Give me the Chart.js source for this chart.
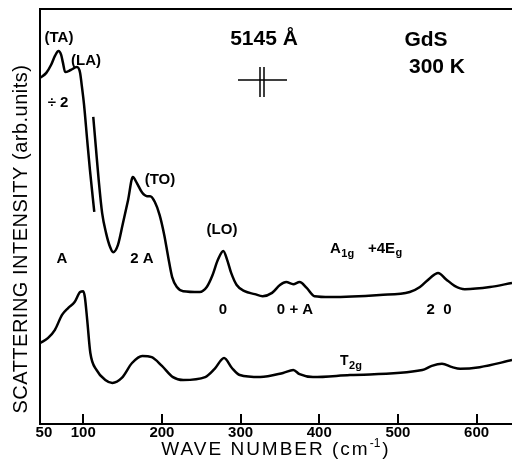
<!DOCTYPE html>
<html>
<head>
<meta charset="utf-8">
<script src="https://cdn.jsdelivr.net/npm/chart.js@4"></script>
<style>
  body { margin: 0; background: #fff; }
  #wrap { width: 512px; height: 472px; }
</style>
</head>
<body>
<div id="wrap"><canvas id="raman" width="512" height="472"></canvas></div>
<script>
// wave number (cm-1) and intensity (arb. units)
// A1g + 4Eg, low-frequency part plotted divided by 2
const halfX = [45, 53, 59, 64, 68.5, 72, 74, 77, 84, 92, 96, 98, 101, 105, 108.5, 114];
const halfY = [83.4, 84.6, 86.5, 88.7, 89.9, 88.9, 87.2, 84.8, 85.3, 86.0, 84.6, 81.7, 76.9, 68.4, 61.2, 51.1];

// A1g + 4Eg, rest of the spectrum at full scale
const upperX = [112.7, 116, 119.6, 124, 129, 134, 138, 144, 150, 157, 163, 168, 175, 181, 185, 191, 197,
  203, 208, 213, 219, 227, 248, 257, 264, 271, 278, 283, 288, 295, 305, 318, 328, 340, 350, 358, 367,
  375, 384, 394, 414, 477, 515, 528, 541, 551, 561, 572, 585, 617, 645];
const upperY = [74.0, 66.7, 58.8, 50.8, 46.0, 42.7, 41.4, 43.1, 48.0, 54.0, 59.5, 58.1, 55.7, 54.9, 54.9, 53.5, 50.4,
  45.5, 40.2, 35.4, 33.0, 32.0, 31.8, 33.0, 35.7, 39.5, 41.7, 39.5, 36.4, 33.5, 32.0, 31.3, 30.8, 31.6, 33.5, 34.2, 33.7,
  34.2, 32.8, 30.8, 30.6, 31.1, 31.8, 33.0, 35.2, 36.4, 34.9, 33.3, 32.5, 33.0, 34.0];

// T2g
const lowerX = [45, 55, 64, 73, 81, 89, 96, 100, 102, 105, 109, 117, 128, 137, 149, 162, 175, 187, 200, 214,
  227, 255, 267, 279, 289, 299, 325, 354, 367, 375, 392, 439, 531, 543, 556, 569, 579, 604, 645];
const lowerY = [19.5, 20.7, 22.7, 26.3, 28.0, 29.4, 31.8, 32.0, 30.6, 25.1, 17.1, 13.0, 10.6, 9.9, 11.1, 14.7, 16.4, 16.1, 14.0, 11.3,
  10.6, 11.3, 13.3, 15.9, 13.5, 11.8, 11.3, 12.3, 13.0, 12.0, 11.3, 11.8, 13.0, 14.0, 14.5, 13.7, 13.3, 13.7, 15.4];

const xTicks = [50, 100, 200, 300, 400, 500, 600];

const FONT = "'Liberation Sans', Arial, sans-serif";

function pts(xs, ys) {
  return xs.map(function (x, i) { return { x: x, y: ys[i] }; });
}

function subText(ctx, x, y, main, sub, size, subSize, drop) {
  ctx.font = 'bold ' + size + 'px ' + FONT;
  ctx.textAlign = 'left';
  ctx.textBaseline = 'alphabetic';
  ctx.fillText(main, x, y);
  let w = ctx.measureText(main).width;
  ctx.font = 'bold ' + subSize + 'px ' + FONT;
  ctx.fillText(sub, x + w + 0.5, y + drop);
}

// text labels, the slit sign, the frame top and the inward tick marks
const decor = {
  id: 'decor',
  afterDraw(chart) {
    const ctx = chart.ctx;
    const a = chart.chartArea;
    const xs = chart.scales.x;
    ctx.save();
    ctx.fillStyle = '#000';
    ctx.strokeStyle = '#000';
    ctx.lineWidth = 2;

    ctx.beginPath();
    ctx.moveTo(a.left - 1, a.top);
    ctx.lineTo(a.right, a.top);
    ctx.stroke();

    xTicks.forEach(function (v) {
      if (v === 50) return;
      const p = Math.round(xs.getPixelForValue(v));
      ctx.beginPath();
      ctx.moveTo(p, a.bottom);
      ctx.lineTo(p, a.bottom - 10);
      ctx.stroke();
    });

    // slit symbol
    ctx.lineWidth = 1.5;
    ctx.beginPath();
    ctx.moveTo(238, 80); ctx.lineTo(287, 80);
    ctx.moveTo(260, 67); ctx.lineTo(260, 97);
    ctx.moveTo(264, 67); ctx.lineTo(264, 97);
    ctx.stroke();

    const notes = [
      ['(TA)', 59, 38, 15], ['(LA)', 86, 61, 15], ['\u00f7 2', 58, 103, 15],
      ['(TO)', 160, 180, 15], ['(LO)', 222, 230, 15],
      ['A', 62, 259, 15], ['2 A', 142, 259, 15],
      ['0', 223, 310, 15], ['0 + A', 295, 310, 15], ['2  0', 439, 310, 15],
      ['5145 \u00c5', 264, 39, 21], ['GdS', 426, 40, 21], ['300 K', 437, 67, 21]
    ];
    ctx.textAlign = 'center';
    ctx.textBaseline = 'middle';
    notes.forEach(function (n) {
      ctx.font = 'bold ' + n[3] + 'px ' + FONT;
      ctx.fillText(n[0], n[1], n[2]);
    });

    // A1g + 4Eg  and  T2g
    subText(ctx, 330, 253, 'A', '1g', 15, 11, 4);
    subText(ctx, 368, 253, '+4E', 'g', 15, 11, 3);
    subText(ctx, 340, 365, 'T', '2g', 14, 11, 4);

    // axis titles
    ctx.font = '19px ' + FONT;
    ctx.letterSpacing = '2px';
    ctx.textAlign = 'left';
    ctx.textBaseline = 'alphabetic';
    const t1 = 'WAVE NUMBER (cm';
    const w1 = ctx.measureText(t1).width;
    ctx.font = '12px ' + FONT;
    ctx.letterSpacing = '0px';
    const w2 = ctx.measureText('-1').width;
    ctx.font = '19px ' + FONT;
    ctx.letterSpacing = '2px';
    const w3 = ctx.measureText(')').width;
    let sx = 276 - (w1 + w2 + 2 + w3) / 2;
    ctx.fillText(t1, sx, 455);
    ctx.font = '12px ' + FONT;
    ctx.letterSpacing = '0px';
    ctx.fillText('-1', sx + w1, 447);
    ctx.font = '19px ' + FONT;
    ctx.letterSpacing = '2px';
    ctx.fillText(')', sx + w1 + w2 + 2, 455);

    ctx.translate(27, 239);
    ctx.rotate(-Math.PI / 2);
    ctx.font = '20px ' + FONT;
    ctx.letterSpacing = '0.5px';
    ctx.textAlign = 'center';
    ctx.fillText('SCATTERING INTENSITY (arb.units)', 0, 0);
    ctx.restore();
  }
};

const lineStyle = {
  borderColor: '#000',
  borderWidth: 2.5,
  pointRadius: 0,
  fill: false,
  cubicInterpolationMode: 'monotone'
};

new Chart('raman', {
  type: 'line',
  data: {
    datasets: [
      Object.assign({ label: 'A1g + 4Eg (/2)', data: pts(halfX, halfY) }, lineStyle),
      Object.assign({ label: 'A1g + 4Eg', data: pts(upperX, upperY) }, lineStyle),
      Object.assign({ label: 'T2g', data: pts(lowerX, lowerY) }, lineStyle)
    ]
  },
  options: {
    responsive: false,
    animation: false,
    devicePixelRatio: 1,
    layout: { padding: { top: 9, right: 0, left: 0, bottom: 0 } },
    plugins: {
      legend: { display: false },
      tooltip: { enabled: false }
    },
    scales: {
      x: {
        type: 'linear',
        min: 45,
        max: 645,
        afterBuildTicks: function (s) {
          s.ticks = xTicks.map(function (v) { return { value: v }; });
        },
        afterFit: function (s) { s.height = 48; },
        grid: { display: false, drawTicks: false },
        border: { display: true, color: '#000', width: 2 },
        ticks: {
          autoSkip: false,
          maxRotation: 0,
          padding: 1,
          color: '#000',
          font: { family: FONT, size: 15, weight: 'bold', lineHeight: 1 }
        }
      },
      y: {
        min: 0,
        max: 100,
        afterFit: function (s) { s.width = 40; },
        grid: { display: false },
        border: { display: true, color: '#000', width: 2 },
        ticks: { display: false }
      }
    }
  },
  plugins: [decor]
});
</script>
</body>
</html>
